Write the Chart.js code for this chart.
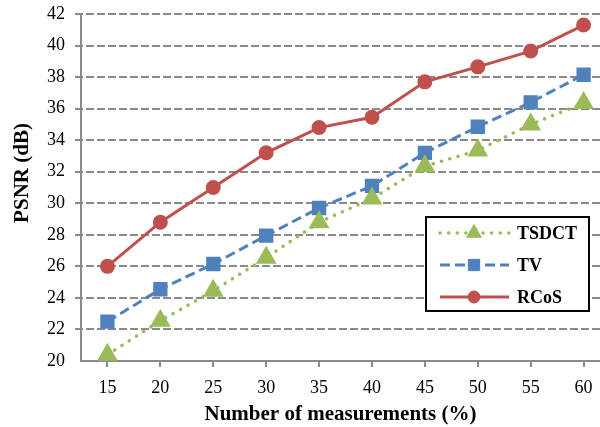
<!DOCTYPE html>
<html>
<head>
<meta charset="utf-8">
<script src="https://cdn.jsdelivr.net/npm/chart.js@4.4.1/dist/chart.umd.min.js"></script>
<style>
  html, body { margin: 0; padding: 0; background: #fff; overflow: hidden; }
  #wrap { width: 600px; height: 427px; }
</style>
</head>
<body>
<div id="wrap"><canvas id="psnrChart" width="600" height="427"></canvas></div>
<script>
// Chart data
const measurements = [15, 20, 25, 30, 35, 40, 45, 50, 55, 60];
const tsdct = [20.4, 22.55, 24.45, 26.55, 28.8, 30.3, 32.35, 33.35, 35.0, 36.35];
const tv    = [22.5, 24.55, 26.15, 27.95, 29.7, 31.1, 33.2, 34.85, 36.4, 38.15];
const rcos  = [26.0, 28.8, 31.0, 33.2, 34.8, 35.45, 37.7, 38.65, 39.65, 41.3];
const yTicks = [20, 22, 24, 26, 28, 30, 32, 34, 36, 38, 40, 42];

const serif = '"Liberation Serif", "Times New Roman", serif';
Chart.defaults.font.family = serif;
Chart.defaults.color = '#000';

const toPoints = arr => measurements.map((m, i) => ({ x: m, y: arr[i] }));

// Dashed horizontal grid lines, drawn from the y scale before the datasets
const dashedGrid = {
  id: 'dashedGrid',
  beforeDatasetsDraw(chart) {
    const { ctx, chartArea, scales: { y } } = chart;
    ctx.save();
    ctx.strokeStyle = '#8a8a8a';
    ctx.lineWidth = 2;
    ctx.setLineDash([8, 3]);
    y.ticks.forEach(t => {
      if (t.value === y.min) return;
      const py = Math.round(y.getPixelForValue(t.value));
      ctx.beginPath();
      ctx.moveTo(chartArea.left - 6, py);
      ctx.lineTo(chartArea.right, py);
      ctx.stroke();
    });
    ctx.restore();
  }
};

// Boxed legend inside the plot + rotated y title placed like the original
const figureExtras = {
  id: 'figureExtras',
  afterDraw(chart) {
    const ctx = chart.ctx;
    ctx.save();
    ctx.translate(23, 173);
    ctx.rotate(-Math.PI / 2);
    ctx.font = 'bold 21px ' + serif;
    ctx.fillStyle = '#000';
    ctx.textAlign = 'center';
    ctx.textBaseline = 'middle';
    ctx.fillText('PSNR (dB)', 0, 0);
    ctx.restore();

    // legend box
    const box = { x: 426, y: 217, w: 163, h: 94 };
    ctx.save();
    ctx.fillStyle = '#fff';
    ctx.fillRect(box.x, box.y, box.w, box.h);
    ctx.lineWidth = 2;
    ctx.strokeStyle = '#000';
    ctx.strokeRect(box.x, box.y, box.w, box.h);
    const rows = [233, 265, 297];
    chart.data.datasets.forEach((ds, i) => {
      const y = rows[i];
      ctx.save();
      ctx.strokeStyle = ds.borderColor;
      ctx.lineWidth = ds.borderWidth;
      ctx.lineCap = ds.borderCapStyle || 'butt';
      ctx.setLineDash(ds.borderDash || []);
      ctx.beginPath();
      ctx.moveTo(440, y);
      ctx.lineTo(509, y);
      ctx.stroke();
      ctx.restore();

      ctx.save();
      ctx.fillStyle = ds.pointBackgroundColor;
      ctx.strokeStyle = ds.pointBorderColor;
      ctx.lineWidth = 1;
      Chart.helpers.drawPoint(ctx, {
        pointStyle: ds.pointStyle, radius: ds.pointRadius, rotation: 0, borderWidth: 1
      }, 474, y);
      ctx.restore();

      ctx.fillStyle = '#000';
      ctx.font = 'bold 18px ' + serif;
      ctx.textAlign = 'left';
      ctx.textBaseline = 'middle';
      ctx.fillText(ds.label, 517, y + 1);
    });
    ctx.restore();
  }
};

new Chart(document.getElementById('psnrChart').getContext('2d'), {
  type: 'line',
  data: {
    datasets: [{
      label: 'TSDCT',
      data: toPoints(tsdct),
      borderColor: '#9BBB59',
      backgroundColor: '#9BBB59',
      pointBackgroundColor: '#9BBB59',
      pointBorderColor: '#9BBB59',
      borderWidth: 3.5,
      borderDash: [0.1, 8.5],
      borderCapStyle: 'round',
      pointStyle: 'triangle',
      pointRadius: 8.5,
      tension: 0
    }, {
      label: 'TV',
      data: toPoints(tv),
      borderColor: '#4F81BD',
      backgroundColor: '#4F81BD',
      pointBackgroundColor: '#4F81BD',
      pointBorderColor: '#4F81BD',
      borderWidth: 3,
      borderDash: [10, 5],
      pointStyle: 'rect',
      pointRadius: 8,
      tension: 0
    }, {
      label: 'RCoS',
      data: toPoints(rcos),
      borderColor: '#C0504D',
      backgroundColor: '#C0504D',
      pointBackgroundColor: '#C0504D',
      pointBorderColor: '#C0504D',
      borderWidth: 3,
      pointStyle: 'circle',
      pointRadius: 6,
      tension: 0
    }]
  },
  options: {
    responsive: false,
    animation: false,
    layout: { autoPadding: false, padding: { top: 14, right: 0, left: 0, bottom: 0 } },
    plugins: {
      legend: { display: false },
      tooltip: { enabled: false }
    },
    scales: {
      x: {
        type: 'linear',
        min: 12.5,
        max: 61.55,
        afterBuildTicks: scale => { scale.ticks = measurements.map(v => ({ value: v })); },
        afterFit: scale => { scale.height = 66; scale.paddingLeft = 0; scale.paddingRight = 0; },
        ticks: { font: { size: 18 }, padding: 10, color: '#000' },
        grid: { drawOnChartArea: false, drawTicks: true, tickLength: 6, color: '#8a8a8a', lineWidth: 2 },
        border: { color: '#8a8a8a', width: 2 },
        title: {
          display: true,
          text: 'Number of measurements (%)',
          font: { size: 21, weight: 'bold' },
          color: '#000',
          padding: { top: 0, bottom: 0 }
        }
      },
      y: {
        min: 20,
        max: 42,
        afterBuildTicks: scale => { scale.ticks = yTicks.map(v => ({ value: v })); },
        afterFit: scale => { scale.width = 81; scale.paddingTop = 0; scale.paddingBottom = 0; },
        ticks: { font: { size: 18 }, padding: 16, color: '#000' },
        grid: { display: false, drawTicks: false },
        border: { color: '#8a8a8a', width: 2 }
      }
    }
  },
  plugins: [dashedGrid, figureExtras]
});
</script>
</body>
</html>
